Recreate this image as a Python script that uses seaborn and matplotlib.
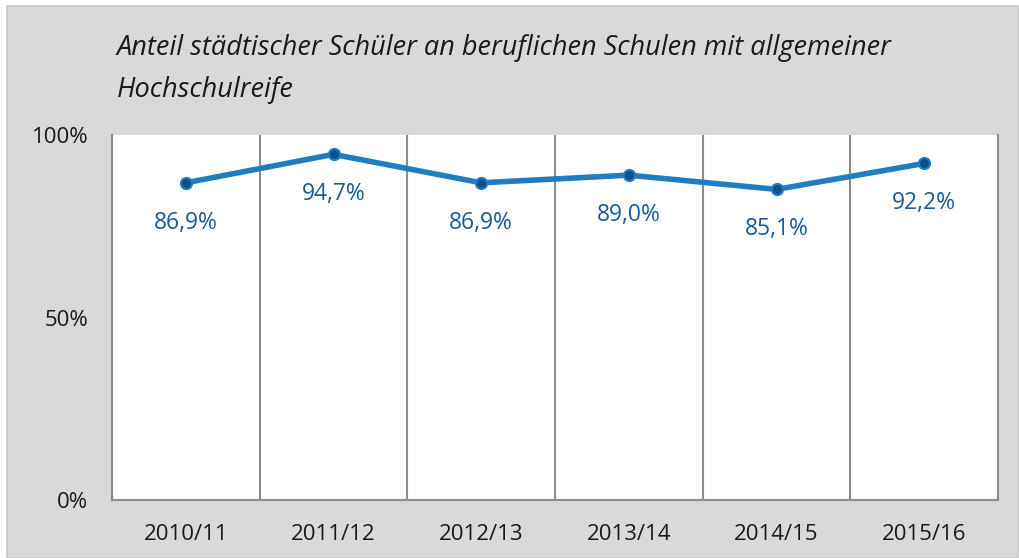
import matplotlib
matplotlib.use("Agg")
import matplotlib.pyplot as plt
import seaborn as sns
import pandas as pd
from matplotlib.patches import Rectangle
from matplotlib.ticker import FixedLocator

categories = ["2010/11", "2011/12", "2012/13", "2013/14", "2014/15", "2015/16"]
values = [86.9, 94.7, 86.9, 89.0, 85.1, 92.2]
labels = ["86,9%", "94,7%", "86,9%", "89,0%", "85,1%", "92,2%"]
yticks = [0, 50, 100]
ytick_labels = ["0%", "50%", "100%"]
title = "Anteil städtischer Schüler an beruflichen Schulen mit allgemeiner\nHochschulreife"

sns.set_style("white")
plt.rcParams['font.family'] = ['Open Sans', 'DejaVu Sans']

W, H = 1019, 558
fig = plt.figure(figsize=(W / 100, H / 100), dpi=100, facecolor="white")
bg = Rectangle((7 / W, 0), 1 - 8 / W, (H - 6) / H, transform=fig.transFigure,
               facecolor="#d9d9d9", edgecolor="#c8c8c8", linewidth=1.2, zorder=-10)
fig.patches.append(bg)

ax = fig.add_axes([112 / W, (H - 500) / H, (998 - 112) / W, (500 - 135) / H])
ax.set_zorder(5)
ax.set_facecolor("white")

df = pd.DataFrame({"x": range(len(categories)), "v": values})
sns.lineplot(data=df, x="x", y="v", ax=ax, color="#1f7dc0", linewidth=4,
             marker="o", markersize=8, markerfacecolor="#0d4f8b",
             markeredgecolor="#1f7dc0", markeredgewidth=1.5, zorder=5)

for i, (v, lab) in enumerate(zip(values, labels)):
    ax.annotate(lab, (i, v), xytext=(0, -40), textcoords="offset pixels",
                ha="center", va="center", fontsize=16.5, color="#1b5a94",
                fontweight="medium")

ax.set_xlim(-0.5, len(categories) - 0.5)
ax.set_ylim(0, 100)
ax.set_xticks(range(len(categories)))
ax.set_xticklabels(categories, fontsize=16, color="#1a1a1a", fontweight="medium")
ax.xaxis.set_minor_locator(FixedLocator([i - 0.5 for i in range(len(categories) + 1)]))
ax.tick_params(axis="x", which="major", length=0, pad=17)
ax.tick_params(axis="x", which="minor", length=7, width=1.5, color="#8c8c8c", direction="out")
ax.grid(axis="x", which="minor", color="#8c8c8c", linewidth=1.5)
ax.set_yticks(yticks)
ax.set_yticklabels(ytick_labels, fontsize=16, color="#1a1a1a", fontweight="medium")
ax.tick_params(axis="y", length=7, width=1.5, color="#8c8c8c", direction="out", pad=10)
ax.set_xlabel("")
ax.set_ylabel("")

for s in ["left", "bottom", "right"]:
    ax.spines[s].set_visible(True)
    ax.spines[s].set_color("#8c8c8c")
    ax.spines[s].set_linewidth(1.5)
ax.spines["top"].set_visible(False)

fig.text(117 / W, 1 - 34 / H, title, fontsize=19.5, style="italic", color="#1a1a1a",
         ha="left", va="top", linespacing=1.65)

fig.savefig("out.png", dpi=100, facecolor=fig.get_facecolor())
